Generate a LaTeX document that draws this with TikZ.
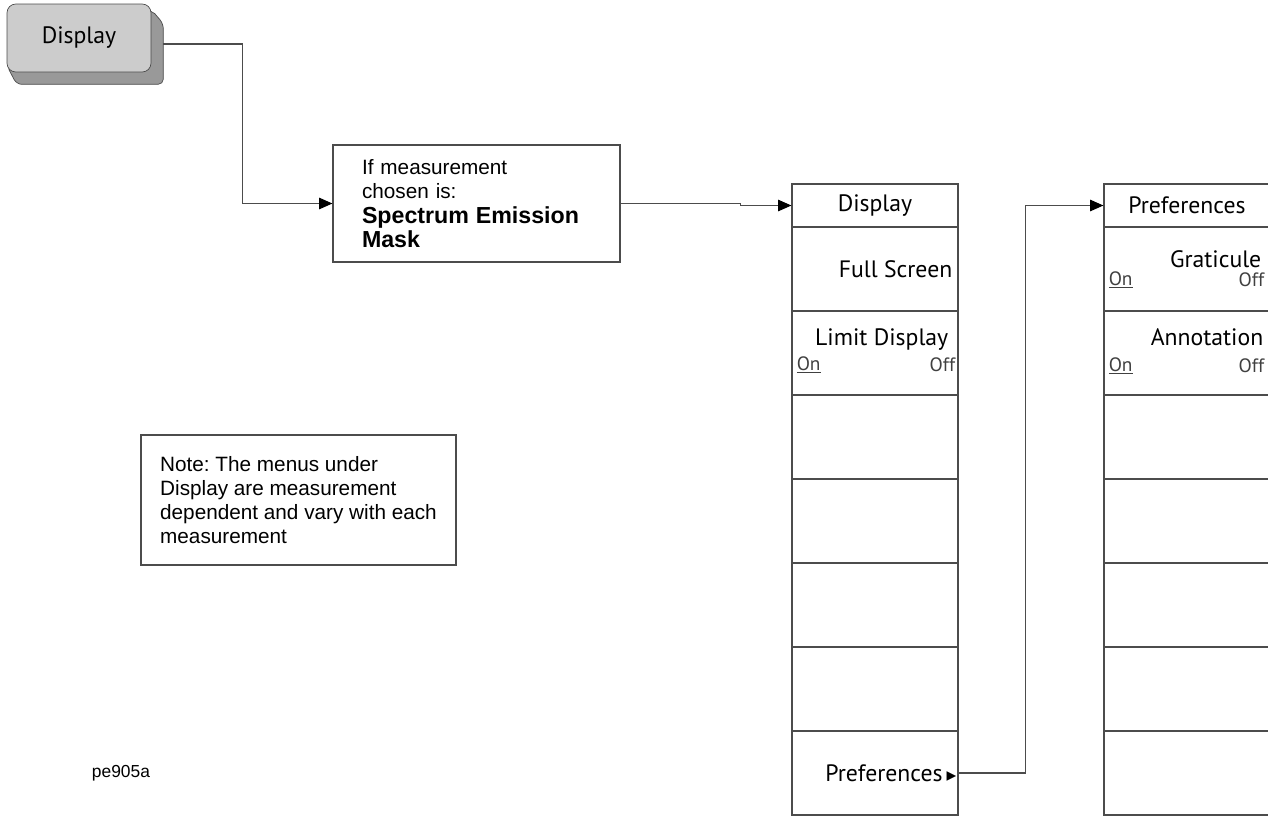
\documentclass[tikz,border=0pt]{standalone}
\usepackage{fontspec}
\setmainfont{Liberation Sans}
\newfontfamily\keyfont{PT Sans}
\newfontfamily\symfont{DejaVu Sans}
\usepackage{tikz}
\usetikzlibrary{arrows.meta,backgrounds,calc,positioning}
\tikzset{
  hardkey/.style={draw=black!70,fill=gray!40,rounded corners=5pt,minimum width=2.88cm,minimum height=1.36cm,
    font=\keyfont\fontsize{13.5}{15}\selectfont},
  keyside/.style={draw=black!70,fill=gray!80,rounded corners=3pt},
  infobox/.style={draw=black!70,line width=0.7pt,align=left,font=\fontsize{11.8}{13.6}\selectfont},
  softkey/.style={draw=black!70,line width=0.7pt,minimum width=3.32cm,minimum height=1.68cm,inner sep=0pt},
  menuhead/.style={softkey,minimum height=0.86cm,font=\keyfont\fontsize{13.5}{15}\selectfont},
  keytxt/.style={inner sep=0pt,font=\keyfont\fontsize{13.5}{15}\selectfont},
  onoff/.style={inner sep=0pt,text=black!75,font=\keyfont\fontsize{11}{12}\selectfont},
  conn/.style={draw=black!70,line width=0.6pt},
  tip/.style={-{Triangle[length=7.5pt,width=6.5pt,color=black]}}
}
\frenchspacing

\begin{document}
\begin{tikzpicture}[x=0.02cm,y=-0.02cm]
\useasboundingbox (0,0) rectangle (1268,816);
\clip (0,0) rectangle (1268,816);
% front panel key
\node[hardkey] (btn) at (79,38) {Display};
\begin{scope}[on background layer]
\draw[keyside] ([yshift=-0.12cm]btn.north east) -- ([xshift=0.24cm,yshift=-0.4cm]btn.north east)
  -- ([xshift=0.24cm,yshift=-0.24cm]btn.south east) -- ([xshift=0.2cm,yshift=-0.24cm]btn.south west)
  -- ([yshift=0.14cm]btn.south west) -- cycle;
\end{scope}
\node[infobox,text width=4.58cm,inner xsep=0.58cm,minimum height=2.34cm] (cond) at (476.5,203.5)
  {If measurement\\chosen is:\\[1pt]{\fontsize{13.2}{14}\selectfont\bfseries Spectrum Emission}\\{\fontsize{13.2}{14}\selectfont\bfseries Mask}};
\node[infobox,minimum width=6.3cm,minimum height=2.6cm] (note) at (298.5,500)
  {Note: The menus under\\Display are measurement\\dependent and vary with each\\measurement};
\node[font=\fontsize{9.9}{11}\selectfont] (tag) at (121,773) {pe905a};
% softkey menus
\foreach \i in {1,...,7}{
  \node[softkey] (dk\i) at (875,{185+84*\i}) {};
  \node[softkey] (pk\i) at (1187,{185+84*\i}) {};
}
\node[menuhead] (dh) at (875,205.5) {Display};
\node[menuhead] (ph) at (1187,205.5) {Preferences};
% labels, display menu
\node[keytxt,anchor=east] (dfull) at ([xshift=-0.12cm]dk1.east) {Full Screen};
\node[keytxt,anchor=east] (dlim) at ([xshift=-0.2cm,yshift=0.26cm]dk2.east) {Limit Display};
\node[onoff,anchor=west] (dlimon) at ([xshift=0.1cm,yshift=-0.24cm]dk2.west) {\underline{On}};
\node[onoff,anchor=east] (dlimoff) at ([xshift=-0.06cm,yshift=-0.24cm]dk2.east) {Off};
\node[keytxt,anchor=east] (dpref) at ([xshift=-0.04cm]dk7.east) {Preferences\,{\symfont\fontsize{11}{12}\selectfont ▸}};
% labels, preferences menu
\node[keytxt,anchor=east] (pgrat) at ([xshift=-0.18cm,yshift=0.2cm]pk1.east) {Graticule};
\node[onoff,anchor=west] (pgraton) at ([xshift=0.1cm,yshift=-0.22cm]pk1.west) {\underline{On}};
\node[onoff,anchor=east] (pgratoff) at ([xshift=-0.12cm,yshift=-0.22cm]pk1.east) {Off};
\node[keytxt,anchor=east] (pann) at ([xshift=-0.14cm,yshift=0.32cm]pk2.east) {Annotation};
\node[onoff,anchor=west] (pannon) at ([xshift=0.1cm,yshift=-0.26cm]pk2.west) {\underline{On}};
\node[onoff,anchor=east] (pannoff) at ([xshift=-0.12cm,yshift=-0.26cm]pk2.east) {Off};
% connectors
\draw[conn,tip] ([xshift=0.24cm,yshift=-0.12cm]btn.east) -| ([xshift=-1.8cm]cond.west) -- (cond.west);
\draw[conn,tip] (cond.east) -- ++(2.4cm,0) |- (dh.west);
\draw[conn,tip] (dk7.east) -- ++(1.34cm,0) |- (ph.west);
\end{tikzpicture}
\end{document}
